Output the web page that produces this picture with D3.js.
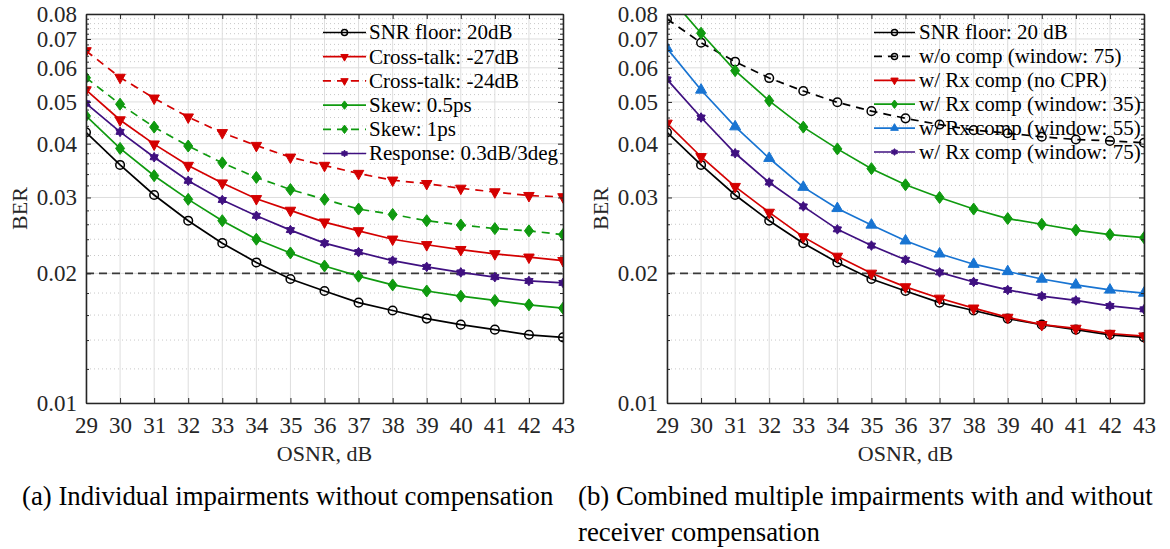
<!DOCTYPE html>
<html>
<head>
<meta charset="utf-8">
<script src="https://cdn.jsdelivr.net/npm/d3@7"></script>
<style>
  body { margin: 0; background: #fff; }
</style>
</head>
<body>
<svg id="chart" width="1170" height="549"></svg>
<script>
// ---- data -------------------------------------------------------------
const osnr = [29, 30, 31, 32, 33, 34, 35, 36, 37, 38, 39, 40, 41, 42, 43];

// (a) individual impairments, no compensation
const snrFloor   = [0.0425, 0.0357, 0.0304, 0.0265, 0.0235, 0.0212, 0.0194, 0.0182, 0.0171, 0.0164, 0.0157, 0.0152, 0.0148, 0.0144, 0.0142];
const xtalk27    = [0.0533, 0.0454, 0.0399, 0.0356, 0.0324, 0.0298, 0.0280, 0.0263, 0.0251, 0.0240, 0.0233, 0.0227, 0.0222, 0.0218, 0.0214];
const xtalk24    = [0.0657, 0.0570, 0.0510, 0.0461, 0.0424, 0.0396, 0.0372, 0.0356, 0.0341, 0.0329, 0.0323, 0.0315, 0.0309, 0.0303, 0.0301];
const skew05     = [0.0464, 0.0390, 0.0337, 0.0297, 0.0265, 0.0240, 0.0223, 0.0208, 0.0197, 0.0188, 0.0182, 0.0177, 0.0173, 0.0169, 0.0166];
const skew1      = [0.0569, 0.0494, 0.0437, 0.0395, 0.0361, 0.0334, 0.0313, 0.0297, 0.0282, 0.0274, 0.0265, 0.0259, 0.0254, 0.0251, 0.0246];
const response   = [0.0496, 0.0426, 0.0372, 0.0328, 0.0296, 0.0272, 0.0252, 0.0235, 0.0224, 0.0214, 0.0207, 0.0201, 0.0196, 0.0192, 0.0190];

// (b) combined impairments, with / without receiver compensation
const snrFloorB  = [0.0425, 0.0357, 0.0304, 0.0265, 0.0235, 0.0212, 0.0194, 0.0182, 0.0171, 0.0164, 0.0157, 0.0152, 0.0148, 0.0144, 0.0142];
const noComp75   = [0.0779, 0.0686, 0.0620, 0.0568, 0.0530, 0.0499, 0.0476, 0.0458, 0.0443, 0.0430, 0.0423, 0.0415, 0.0409, 0.0406, 0.0402];
const rxNoCpr    = [0.0446, 0.0373, 0.0318, 0.0277, 0.0243, 0.0219, 0.0200, 0.0186, 0.0175, 0.0166, 0.0158, 0.0152, 0.0149, 0.0145, 0.0143];
const rxWin35    = [0.0890, 0.0722, 0.0591, 0.0503, 0.0437, 0.0389, 0.0350, 0.0321, 0.0300, 0.0282, 0.0268, 0.0260, 0.0252, 0.0246, 0.0242];
const rxWin55    = [0.0666, 0.0533, 0.0438, 0.0370, 0.0317, 0.0283, 0.0259, 0.0238, 0.0222, 0.0210, 0.0202, 0.0194, 0.0188, 0.0183, 0.0180];
const rxWin75    = [0.0564, 0.0460, 0.0380, 0.0325, 0.0286, 0.0253, 0.0232, 0.0215, 0.0201, 0.0191, 0.0183, 0.0177, 0.0173, 0.0168, 0.0165];

const berLimit = 0.02;

// ---- axes ticks ---------------------------------------------------------
const xTickValues = [29, 30, 31, 32, 33, 34, 35, 36, 37, 38, 39, 40, 41, 42, 43];
const yTickValues = [0.01, 0.02, 0.03, 0.04, 0.05, 0.06, 0.07, 0.08];
const yTickLabels = ["0.01", "0.02", "0.03", "0.04", "0.05", "0.06", "0.07", "0.08"];
const yMinorValues = d3.range(6, 40).map(k => +(k * 0.002).toFixed(3)).filter(v => Math.round(v * 1000) % 10 !== 0);

// ---- styling ------------------------------------------------------------
const FONT = '"Liberation Serif"';
const C = {
  black: "#000000",
  red: "#d40000",
  green: "#0f9a0f",
  blue: "#1874d2",
  purple: "#3f1080",
  axis: "#262626",
  grid: "#dedede",
  minor: "#c8c8c8"
};

const panelsCfg = [
  {
    id: "a",
    x0: 86, x1: 563,
    caption: ["(a) Individual impairments without compensation"],
    captionX: 22,
    legend: { lx0: 323, lx1: 366, tx: 369, y0: 32.5, step: 24.2 },
    series: [
      { name: "SNR floor: 20dB",        values: snrFloor, color: C.black,  dash: null, marker: "circle" },
      { name: "Cross-talk: -27dB",      values: xtalk27,  color: C.red,    dash: null, marker: "triDown" },
      { name: "Cross-talk: -24dB",      values: xtalk24,  color: C.red,    dash: "8,6", marker: "triDown" },
      { name: "Skew: 0.5ps",            values: skew05,   color: C.green,  dash: null, marker: "diamond" },
      { name: "Skew: 1ps",              values: skew1,    color: C.green,  dash: "8,6", marker: "diamond" },
      { name: "Response: 0.3dB/3deg",   values: response, color: C.purple, dash: null, marker: "hexagram" }
    ]
  },
  {
    id: "b",
    x0: 667, x1: 1144,
    caption: ["(b) Combined multiple impairments with and without", "receiver compensation"],
    captionX: 578,
    legend: { lx0: 874, lx1: 915, tx: 919, y0: 32.5, step: 23.9 },
    series: [
      { name: "SNR floor: 20 dB",            values: snrFloorB, color: C.black,  dash: null, marker: "circle" },
      { name: "w/o comp (window: 75)",       values: noComp75,  color: C.black,  dash: "8,6", marker: "circle" },
      { name: "w/ Rx comp (no CPR)",         values: rxNoCpr,   color: C.red,    dash: null, marker: "triDown" },
      { name: "w/ Rx comp (window: 35)",     values: rxWin35,   color: C.green,  dash: null, marker: "diamond" },
      { name: "w/ Rx comp (window: 55)",     values: rxWin55,   color: C.blue,   dash: null, marker: "triUp" },
      { name: "w/ Rx comp (window: 75)",     values: rxWin75,   color: C.purple, dash: null, marker: "hexagram" }
    ]
  }
];

const Y0 = 14, Y1 = 403;

// ---- marker shapes ------------------------------------------------------
function shapePath(type, s) {
  if (type === "triDown") {
    const w = 10.5 * s, h = 9.5 * s;
    return `M${-w / 2},${-h / 3}L${w / 2},${-h / 3}L0,${2 * h / 3}Z`;
  }
  if (type === "triUp") {
    const w = 11 * s, h = 9.5 * s;
    return `M${-w / 2},${h / 3}L${w / 2},${h / 3}L0,${-2 * h / 3}Z`;
  }
  if (type === "diamond") {
    const w = 9 * s, h = 12 * s;
    return `M0,${-h / 2}L${w / 2},0L0,${h / 2}L${-w / 2},0Z`;
  }
  if (type === "hexagram") {
    const ro = 4.8 * s, ri = 3.0 * s;
    let d = "";
    for (let k = 0; k < 12; k++) {
      const r = k % 2 === 0 ? ro : ri;
      const a = -Math.PI / 2 + k * Math.PI / 6;
      d += (k === 0 ? "M" : "L") + (r * Math.cos(a)).toFixed(2) + "," + (r * Math.sin(a)).toFixed(2);
    }
    return d + "Z";
  }
  return null;
}

function drawMarker(g, type, color, cx, cy, s) {
  if (type === "circle") {
    g.append("circle").attr("cx", cx).attr("cy", cy).attr("r", 4.3 * s)
      .attr("fill", "none").attr("stroke", color).attr("stroke-width", 1.5);
  } else {
    g.append("path").attr("d", shapePath(type, s))
      .attr("transform", `translate(${cx},${cy})`)
      .attr("fill", color).attr("stroke", color).attr("stroke-width", 1);
  }
}

function serifText(sel, size) {
  return sel.attr("font-family", "Liberation Serif").style("font-family", FONT).style("font-size", size + "px");
}

// ---- drawing ------------------------------------------------------------
const svg = d3.select("#chart");

panelsCfg.forEach(cfg => {
  const x = d3.scaleLinear().domain([29, 43]).range([cfg.x0, cfg.x1]);
  const y = d3.scaleLog().domain([0.01, 0.08]).range([Y1, Y0]);
  const g = svg.append("g").attr("class", "panel-" + cfg.id);

  // clip region for the plotted data
  svg.append("clipPath").attr("id", "clip-" + cfg.id)
    .append("rect").attr("x", cfg.x0).attr("y", Y0)
    .attr("width", cfg.x1 - cfg.x0).attr("height", Y1 - Y0);

  // grid: minor dotted, major solid
  const grid = g.append("g");
  grid.selectAll("line.ymin").data(yMinorValues).join("line")
    .attr("x1", cfg.x0).attr("x2", cfg.x1)
    .attr("y1", d => y(d)).attr("y2", d => y(d))
    .attr("stroke", C.minor).attr("stroke-width", 1).attr("stroke-dasharray", "1,3");
  grid.selectAll("line.ymaj").data(yTickValues).join("line")
    .attr("x1", cfg.x0).attr("x2", cfg.x1)
    .attr("y1", d => y(d)).attr("y2", d => y(d))
    .attr("stroke", C.grid).attr("stroke-width", 1);
  grid.selectAll("line.xmaj").data(xTickValues).join("line")
    .attr("x1", d => x(d)).attr("x2", d => x(d))
    .attr("y1", Y0).attr("y2", Y1)
    .attr("stroke", C.grid).attr("stroke-width", 1);

  // BER threshold
  g.append("line")
    .attr("x1", cfg.x0).attr("x2", cfg.x1)
    .attr("y1", y(berLimit)).attr("y2", y(berLimit))
    .attr("stroke", "#3a3a3a").attr("stroke-width", 1.6).attr("stroke-dasharray", "8,5");

  // series
  const data = g.append("g").attr("clip-path", `url(#clip-${cfg.id})`);
  const line = d3.line().x((d, i) => x(osnr[i])).y(d => y(d));
  cfg.series.forEach(s => {
    data.append("path").attr("d", line(s.values))
      .attr("fill", "none").attr("stroke", s.color).attr("stroke-width", 1.7)
      .attr("stroke-dasharray", s.dash);
    const mg = data.append("g");
    s.values.forEach((v, i) => drawMarker(mg, s.marker, s.color, x(osnr[i]), y(v), 1));
  });

  // axes with inward ticks on all four sides
  const ax = g.append("g").attr("color", C.axis);
  const bottom = ax.append("g").attr("transform", `translate(0,${Y1})`)
    .call(d3.axisBottom(x).tickValues(xTickValues).tickFormat(d3.format("d"))
      .tickSizeInner(-5).tickSizeOuter(0).tickPadding(14));
  ax.append("g").attr("transform", `translate(0,${Y0})`)
    .call(d3.axisTop(x).tickValues(xTickValues).tickFormat("")
      .tickSizeInner(-5).tickSizeOuter(0));
  const left = ax.append("g").attr("transform", `translate(${cfg.x0},0)`)
    .call(d3.axisLeft(y).tickValues(yTickValues).tickFormat((d, i) => yTickLabels[i])
      .tickSizeInner(-5).tickSizeOuter(0).tickPadding(9));
  ax.append("g").attr("transform", `translate(${cfg.x0},0)`)
    .call(d3.axisLeft(y).tickValues(yMinorValues).tickFormat("")
      .tickSizeInner(-3).tickSizeOuter(0));
  ax.append("g").attr("transform", `translate(${cfg.x1},0)`)
    .call(d3.axisRight(y).tickValues(yTickValues).tickFormat("")
      .tickSizeInner(-5).tickSizeOuter(0));
  ax.append("g").attr("transform", `translate(${cfg.x1},0)`)
    .call(d3.axisRight(y).tickValues(yMinorValues).tickFormat("")
      .tickSizeInner(-3).tickSizeOuter(0));
  ax.selectAll("g").attr("font-family", "Liberation Serif").attr("font-size", 23);
  ax.selectAll(".domain").attr("stroke-width", 1.3);
  ax.selectAll(".tick line").attr("stroke-width", 1);
  [bottom, left].forEach(a => serifText(a.selectAll("text"), 23).attr("fill", "#262626"));

  // axis titles
  serifText(g.append("text"), 22).attr("x", (cfg.x0 + cfg.x1) / 2).attr("y", 461)
    .attr("text-anchor", "middle").attr("fill", "#262626").text("OSNR, dB");
  serifText(g.append("text"), 22)
    .attr("transform", `translate(${cfg.x0 - 59},${(Y0 + Y1) / 2}) rotate(-90)`)
    .attr("text-anchor", "middle").attr("fill", "#262626").text("BER");

  // legend (transparent, no frame)
  const L = cfg.legend;
  const lg = g.append("g");
  cfg.series.forEach((s, i) => {
    const cy = L.y0 + i * L.step;
    lg.append("line").attr("x1", L.lx0).attr("x2", L.lx1).attr("y1", cy).attr("y2", cy)
      .attr("stroke", s.color).attr("stroke-width", 1.7).attr("stroke-dasharray", s.dash);
    drawMarker(lg, s.marker, s.color, (L.lx0 + L.lx1) / 2, cy, 0.7);
    serifText(lg.append("text"), 21).attr("x", L.tx).attr("y", cy).attr("dy", "0.33em")
      .attr("fill", "#000").text(s.name);
  });

  // sub-figure caption
  cfg.caption.forEach((t, i) => {
    serifText(g.append("text"), 26.8).attr("x", cfg.captionX).attr("y", 505 + i * 36)
      .attr("fill", "#000").text(t);
  });
});
</script>
</body>
</html>
